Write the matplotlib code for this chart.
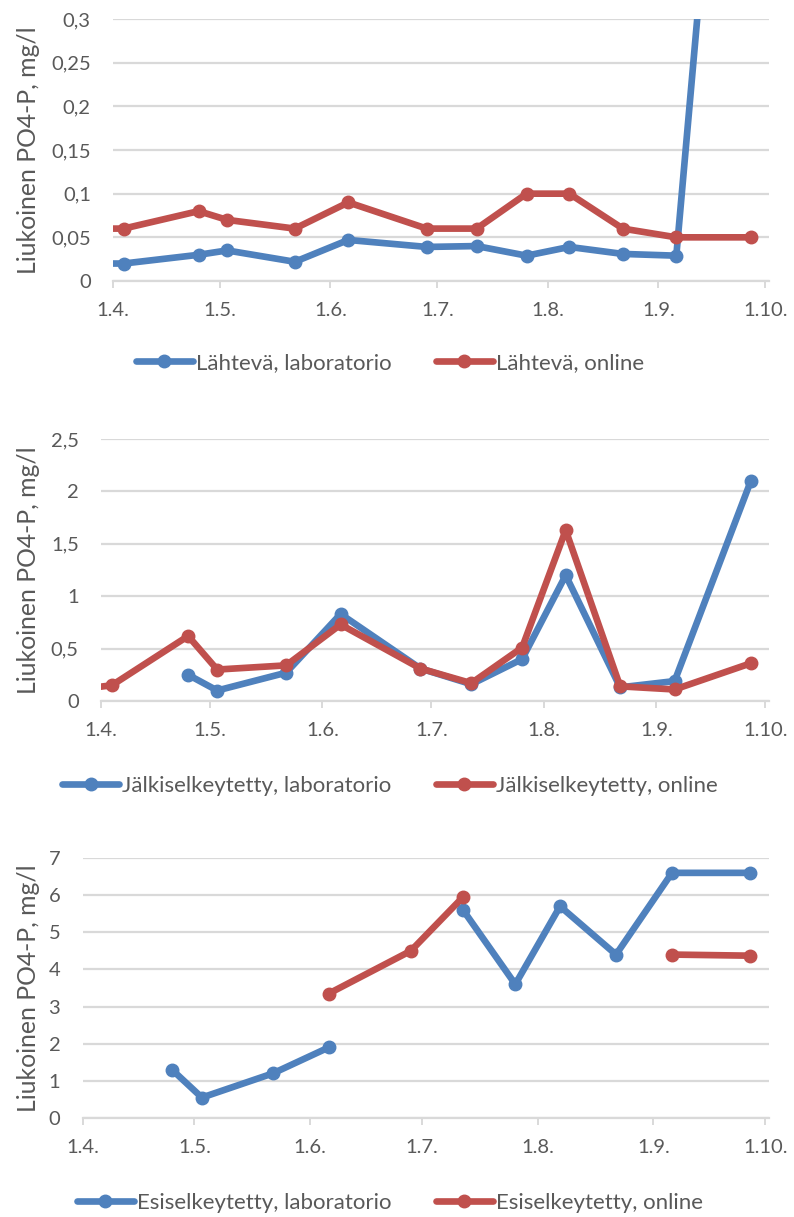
import matplotlib
matplotlib.use("Agg")
import matplotlib.pyplot as plt
import matplotlib.dates as mdates
import matplotlib.transforms as mtransforms
import numpy as np
import pandas as pd

plt.rcParams["font.family"] = ["Lato", "DejaVu Sans"]

nan = np.nan

# sampling dates (first one lies before the visible range)
dates = pd.to_datetime(["2017-03-28", "2017-04-04", "2017-04-25", "2017-05-03", "2017-05-22",
                        "2017-06-06", "2017-06-28", "2017-07-12", "2017-07-26", "2017-08-07",
                        "2017-08-22", "2017-09-06", "2017-09-27"])

# Lähtevä
out_lab = [0.02, 0.02, 0.03, 0.035, 0.022, 0.047, 0.039, 0.04, 0.029, 0.039, 0.031, 0.029, 1.0]
out_online = [0.06, 0.06, 0.08, 0.07, 0.06, 0.09, 0.06, 0.06, 0.10, 0.10, 0.06, 0.05, 0.05]

# Jälkiselkeytetty
post_lab = [nan, nan, 0.25, 0.10, 0.27, 0.83, 0.31, 0.16, 0.40, 1.20, 0.13, 0.19, 2.10]
post_online = [0.12, 0.15, 0.62, 0.30, 0.34, 0.73, 0.31, 0.17, 0.51, 1.63, 0.14, 0.11, 0.36]

# Esiselkeytetty
pre_lab = [nan, nan, 1.30, 0.55, 1.20, 1.90, nan, 5.60, 3.60, 5.70, 4.40, 6.60, 6.60]
pre_online = [nan, nan, nan, nan, nan, 3.35, 4.50, 5.95, nan, nan, nan, 4.40, 4.37]

ylabel = "Liukoinen PO4-P, mg/l"
BLUE = "#4F81BD"
RED = "#C0504D"
GRID = "#D9D9D9"
TXT = "#595959"

W, H = 794, 1217
fig = plt.figure(figsize=(W / 100, H / 100), dpi=100)

# (left px, right px, top px, bottom px, ymax, ystep, legend y px, series, names)
panels = [
    (113, 769, 19, 281, 0.3, 0.05, 363, out_lab, out_online,
     ["Lähtevä, laboratorio", "Lähtevä, online"]),
    (101, 769, 439, 701, 2.5, 0.5, 786, post_lab, post_online,
     ["Jälkiselkeytetty, laboratorio", "Jälkiselkeytetty, online"]),
    (82.5, 769, 858, 1118, 7, 1, 1203, pre_lab, pre_online,
     ["Esiselkeytetty, laboratorio", "Esiselkeytetty, online"]),
]


def fmt_num(v, pos=None):
    s = f"{v:.2f}".rstrip("0").rstrip(".")
    return s.replace(".", ",")


def fmt_date(x, pos=None):
    d = mdates.num2date(x)
    return f"{d.day}.{d.month}."


for left, right, top, bottom, ymax, ystep, leg_y, lab, onl, names in panels:
    ax = fig.add_axes([left / W, 1 - bottom / H, (right - left) / W, (bottom - top) / H])
    ax.plot(dates, lab, color=BLUE, lw=4.8, marker="o", ms=9, label=names[0],
            solid_capstyle="round", solid_joinstyle="round")
    ax.plot(dates, onl, color=RED, lw=4.8, marker="o", ms=9, label=names[1],
            solid_capstyle="round", solid_joinstyle="round")

    ax.set_xlim(pd.Timestamp("2017-04-01"), pd.Timestamp("2017-10-02"))
    ax.set_ylim(0, ymax)
    ax.set_yticks(np.arange(0, ymax + ystep / 2, ystep))
    ax.yaxis.set_major_formatter(plt.FuncFormatter(fmt_num))
    ax.xaxis.set_major_locator(mdates.MonthLocator())
    ax.xaxis.set_major_formatter(plt.FuncFormatter(fmt_date))

    ax.grid(axis="y", color=GRID, lw=1.6)
    ax.set_axisbelow(True)
    for s in ["top", "right", "left"]:
        ax.spines[s].set_visible(False)
    ax.spines["bottom"].set_color(GRID)
    ax.spines["bottom"].set_linewidth(1.6)
    ax.tick_params(axis="y", length=0, pad=16, labelsize=14.5, labelcolor=TXT)
    ax.tick_params(axis="x", length=5, width=1.4, color=GRID, pad=10, labelsize=14.5,
                   labelcolor=TXT)

    ax.set_ylabel(ylabel, fontsize=17.8, color=TXT)
    ax.yaxis.set_label_coords(40 / W, 0.5,
                              transform=mtransforms.blended_transform_factory(fig.transFigure, ax.transAxes))

    leg = fig.legend(handles=ax.get_lines(), loc="center", bbox_to_anchor=(390 / W, 1 - leg_y / H),
                     ncol=2, frameon=False, fontsize=16, handlelength=2.55, handletextpad=0.15,
                     columnspacing=2.0, labelcolor=TXT)

fig.savefig("out.png", dpi=100)
